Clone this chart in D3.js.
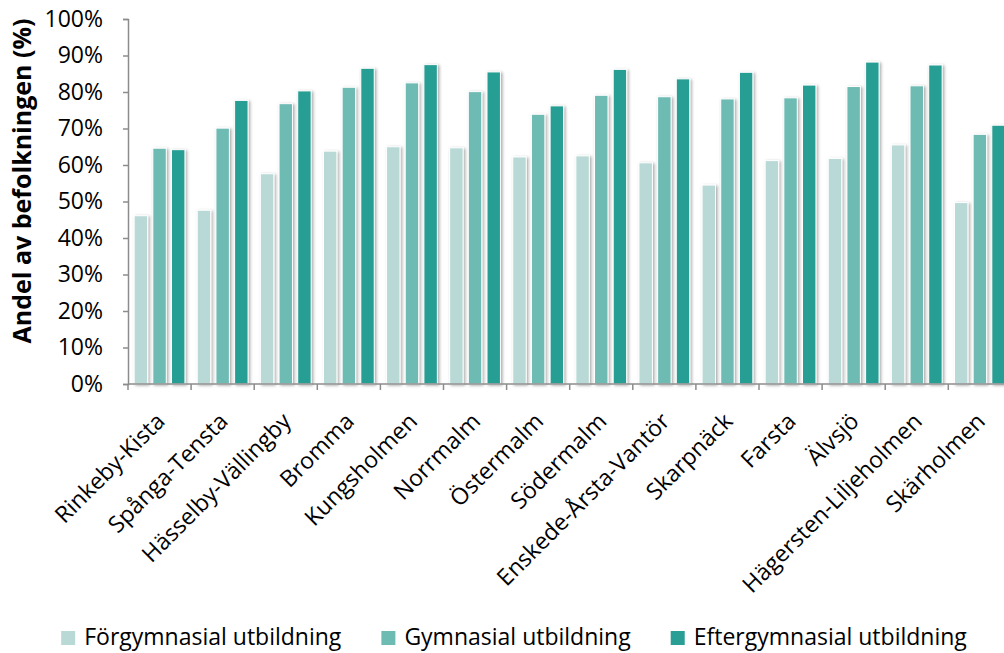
<!DOCTYPE html>
<html lang="sv">
<head>
    <meta charset="utf-8" />
    <script src="https://d3js.org/d3.v7.min.js"></script>
    <style>
        body {
            margin: 0;
            background: #fff;
        }
        text {
            font-family: "Open Sans", sans-serif;
            fill: #000;
        }
    </style>
</head>
<body>
    <script>
        // Stadsdelar
        var districts = ["Rinkeby-Kista", "Spånga-Tensta", "Hässelby-Vällingby", "Bromma", "Kungsholmen",
            "Norrmalm", "Östermalm", "Södermalm", "Enskede-Årsta-Vantör", "Skarpnäck",
            "Farsta", "Älvsjö", "Hägersten-Liljeholmen", "Skärholmen"];

        // Serier
        var seriesNames = ["Förgymnasial utbildning", "Gymnasial utbildning", "Eftergymnasial utbildning"];
        var seriesColors = ["#b8d9d6", "#6ebbb4", "#289e94"];

        // Andel (%) per stadsdel
        var forgymnasial = [46.1, 47.6, 57.6, 63.8, 65.0, 64.7, 62.2, 62.5, 60.6, 54.5, 61.2, 61.8, 65.5, 49.7];
        var gymnasial = [64.6, 70.1, 76.8, 81.3, 82.5, 80.1, 73.9, 79.1, 78.7, 78.1, 78.4, 81.5, 81.7, 68.4];
        var eftergymnasial = [64.2, 77.7, 80.3, 86.5, 87.5, 85.5, 76.2, 86.2, 83.6, 85.4, 81.9, 88.2, 87.4, 70.9];

        var yTicks = [0, 10, 20, 30, 40, 50, 60, 70, 80, 90, 100];

        var width = 1004, height = 653;
        var plotLeft = 128, plotTop = 19, plotBottom = 384;
        var step = 63.1; // Excel-diagrammet fortsätter utanför bilden till höger
        var fontSize = "23px";

        var svg = d3.select("body").append("svg")
            .attr("width", width)
            .attr("height", height);

        // Skugga under staplarna
        var filter = svg.append("defs").append("filter")
            .attr("id", "shadow")
            .attr("x", "-50%").attr("y", "-10%")
            .attr("width", "200%").attr("height", "120%");
        filter.append("feDropShadow")
            .attr("dx", 1.5).attr("dy", 1)
            .attr("stdDeviation", 1.6)
            .attr("flood-color", "#000")
            .attr("flood-opacity", 0.35);

        var x = d3.scaleBand()
            .domain(districts)
            .range([plotLeft, plotLeft + step * districts.length])
            .padding(0);

        var xInner = d3.scaleBand()
            .domain(d3.range(seriesNames.length))
            .range([0, x.bandwidth()])
            .paddingInner(0.28)
            .paddingOuter(0.33);

        var y = d3.scaleLinear()
            .domain([0, 100])
            .range([plotBottom, plotTop]);

        // Bygg tabell: en rad per stadsdel
        var values = [forgymnasial, gymnasial, eftergymnasial];
        var table = districts.map(function (d, i) {
            return { name: d, vals: values.map(function (s) { return s[i]; }) };
        });

        // Staplar
        var groups = svg.append("g").selectAll("g")
            .data(table)
            .join("g")
            .attr("transform", function (d) { return "translate(" + x(d.name) + ",0)"; });

        groups.selectAll("rect")
            .data(function (d) { return d.vals; })
            .join("rect")
            .attr("x", function (d, i) { return xInner(i); })
            .attr("width", xInner.bandwidth())
            .attr("y", function (d) { return y(d); })
            .attr("height", function (d) { return plotBottom - y(d); })
            .attr("fill", function (d, i) { return seriesColors[i]; })
            .attr("stroke", "#fff")
            .attr("stroke-width", 1)
            .attr("filter", "url(#shadow)");

        // Y-axel
        var yAxis = svg.append("g")
            .attr("transform", "translate(" + plotLeft + ",0)")
            .call(d3.axisLeft(y)
                .tickValues(yTicks)
                .tickSize(5)
                .tickPadding(20)
                .tickFormat(function (d) { return d + "%"; }));
        yAxis.select(".domain").attr("stroke", "#8c8c8c").attr("stroke-width", 1.5);
        yAxis.selectAll(".tick line").attr("stroke", "#8c8c8c").attr("stroke-width", 1.5);
        yAxis.selectAll("text")
            .style("font-family", "'Open Sans', sans-serif")
            .style("font-size", fontSize)
            .attr("fill", "#000");

        // X-axel
        var xAxisG = svg.append("g");
        xAxisG.append("line")
            .attr("x1", plotLeft).attr("x2", plotLeft + step * districts.length)
            .attr("y1", plotBottom).attr("y2", plotBottom)
            .attr("stroke", "#8c8c8c").attr("stroke-width", 1.5);
        xAxisG.selectAll("line.tick")
            .data(districts)
            .join("line")
            .attr("class", "tick")
            .attr("x1", function (d) { return x(d); })
            .attr("x2", function (d) { return x(d); })
            .attr("y1", plotBottom).attr("y2", plotBottom + 6)
            .attr("stroke", "#8c8c8c").attr("stroke-width", 1.5);

        xAxisG.selectAll("text")
            .data(districts)
            .join("text")
            .attr("transform", function (d) {
                return "translate(" + (x(d) + x.bandwidth() / 2 + 1) + "," + (plotBottom + 33) + ") rotate(-45)";
            })
            .attr("text-anchor", "end")
            .attr("dy", "0.35em")
            .style("font-size", fontSize)
            .text(function (d) { return d; });

        // Y-axelns titel
        svg.append("text")
            .attr("transform", "translate(31,181) rotate(-90)")
            .attr("text-anchor", "middle")
            .style("font-size", "25px")
            .style("font-weight", "bold")
            .text("Andel av befolkningen (%)");

        // Förklaring
        var legend = svg.append("g");
        var items = legend.selectAll("g")
            .data(seriesNames)
            .join("g");
        items.append("rect")
            .attr("width", 14).attr("height", 14)
            .attr("y", 631)
            .attr("fill", function (d, i) { return seriesColors[i]; });
        items.append("text")
            .attr("x", 23)
            .attr("y", 645)
            .style("font-size", fontSize)
            .text(function (d) { return d; });

        var xPos = 0;
        items.each(function () {
            var g = d3.select(this);
            g.attr("transform", "translate(" + xPos + ",0)");
            xPos += 23 + g.select("text").node().getComputedTextLength() + 40;
        });
        var legendWidth = xPos - 40;
        legend.attr("transform", "translate(" + (514 - legendWidth / 2) + ",0)");
    </script>
</body>
</html>
